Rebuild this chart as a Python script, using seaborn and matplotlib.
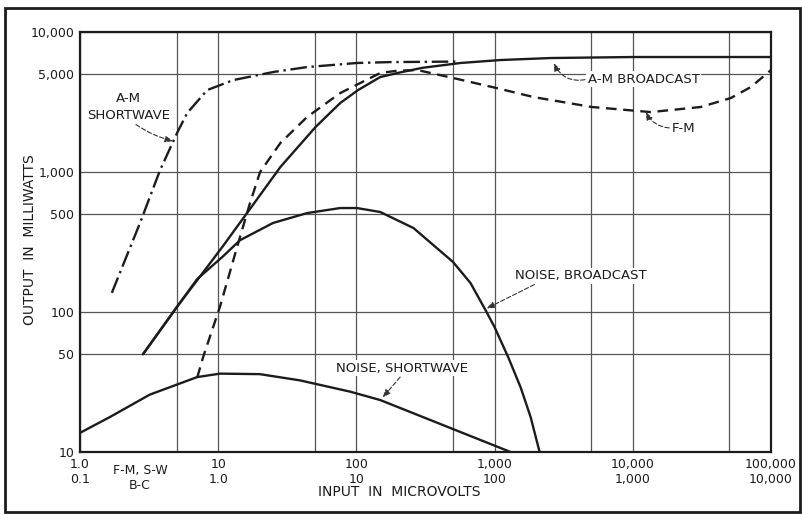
import pandas as pd
import seaborn as sns
import matplotlib.pyplot as plt
from matplotlib.patches import Rectangle
from matplotlib.ticker import NullFormatter

# curves (x = input in microvolts, upper scale; y = output mW)
am_sw_x = [1.7, 2.1, 2.72, 3.8, 5.04, 5.96, 8.33, 12.9, 25, 44, 101, 176, 520]
am_sw_y = [137, 230, 433, 1033, 1900, 2636, 3850, 4540, 5180, 5620, 6010, 6100, 6150]

am_bc_x = [2.86, 5.04, 10.7, 17, 28.2, 50.6, 76.4, 103, 149, 208, 300, 567, 1105, 2546, 10000, 100000]
am_bc_y = [50, 109, 291, 545, 1086, 2094, 3111, 3853, 4773, 5150, 5550, 6010, 6310, 6520, 6630, 6630]

fm_x = [7.05, 7.8, 10.3, 13.7, 17, 20.1, 28.2, 44, 76.4, 149, 200, 277, 504, 1033, 1918, 5047, 13490, 31100, 51300, 71600, 100000]
fm_y = [34, 48, 109, 291, 601, 1000, 1612, 2473, 3664, 5100, 5300, 5350, 4690, 3980, 3430, 2915, 2680, 2915, 3380, 4050, 5350]

noise_bc_x = [2.86, 5.04, 7.05, 10.7, 14.4, 25, 44, 76.4, 101, 149, 259, 500, 670, 875, 1000, 1262, 1543, 1823, 2118]
noise_bc_y = [50, 109, 172, 247, 326, 433, 509, 553, 553, 518, 398, 228, 161, 100, 78, 47, 29, 17.8, 10]

noise_sw_x = [1, 1.65, 3.2, 7.05, 10.3, 20, 39, 90, 149, 1306]
noise_sw_y = [13.7, 17.8, 25.7, 34.3, 36.3, 36, 32.5, 27, 23.5, 10]

x_ticks = [1, 10, 100, 1000, 10000, 100000]
x_labels = ['1.0\n0.1', '10\n1.0', '100\n10', '1,000\n100', '10,000\n1,000', '100,000\n10,000']
x_grid = [5, 50, 500, 5000, 50000]
y_ticks = [10, 50, 100, 500, 1000, 5000, 10000]
y_labels = ['10', '50', '100', '500', '1,000', '5,000', '10,000']

sns.set_style('white')
plt.rcParams['font.family'] = ['DejaVu Sans']

ink = '#1c1c1c'
fig = plt.figure(figsize=(8.03, 5.15), dpi=100)
ax = fig.add_axes([0.0996, 0.1223, 0.8605, 0.8155])

curves = [
    (am_sw_x, am_sw_y, (0, (7, 2, 1, 2))),
    (am_bc_x, am_bc_y, '-'),
    (fm_x, fm_y, (0, (4.5, 2.8))),
    (noise_bc_x, noise_bc_y, '-'),
    (noise_sw_x, noise_sw_y, '-'),
]
for xs, ys, ls in curves:
    df = pd.DataFrame({'x': xs, 'y': ys})
    sns.lineplot(data=df, x='x', y='y', ax=ax, sort=False, estimator=None,
                 color=ink, lw=1.7, linestyle=ls, zorder=3)

ax.set_xscale('log')
ax.set_yscale('log')
ax.set_xlim(1, 100000)
ax.set_ylim(10, 10000)

for v in x_ticks + x_grid:
    ax.axvline(v, color='#555', lw=0.9, zorder=1)
for v in y_ticks:
    ax.axhline(v, color='#555', lw=0.9, zorder=1)

ax.set_xticks(x_ticks)
ax.set_xticklabels(x_labels)
ax.set_xticks([], minor=True)
ax.set_yticks(y_ticks)
ax.set_yticklabels(y_labels)
ax.set_yticks([], minor=True)
ax.xaxis.set_minor_formatter(NullFormatter())
ax.tick_params(length=0, labelsize=9, colors=ink, pad=4)
ax.set_xlabel('')
ax.set_ylabel('')
for s in ax.spines.values():
    s.set_color(ink)
    s.set_linewidth(1.6)

ax.text(2.72, -0.028, 'F-M, S-W\nB-C', transform=ax.get_xaxis_transform(),
        ha='center', va='top', fontsize=9, color=ink)
fig.text(399 / 803, 1 - 492 / 515, 'INPUT  IN  MICROVOLTS', ha='center', va='center',
         fontsize=10, color=ink)
fig.text(30 / 803, 1 - 240 / 515, 'OUTPUT  IN  MILLIWATTS', rotation=90, ha='center',
         va='center', fontsize=10, color=ink)

arrow = dict(arrowstyle='-|>,head_length=0.5,head_width=0.2', lw=0.8,
             ls=(0, (4, 2)), color='#333', shrinkA=1, shrinkB=0)
txt = dict(fontsize=9.5, color=ink, ha='center', va='center',
           bbox=dict(fc='white', ec='none', pad=1))

ax.annotate('A-M\nSHORTWAVE', xy=(4.72, 1664), xytext=(2.25, 2900),
            arrowprops=dict(arrow, relpos=(0.55, 0), connectionstyle='arc3,rad=0.1'),
            linespacing=1.4, **txt)
ax.annotate('A-M BROADCAST', xy=(2680, 6000), xytext=(12020, 4616),
            arrowprops=dict(arrow, relpos=(0, 0.5), connectionstyle='arc3,rad=-0.4'), **txt)
ax.annotate('F-M', xy=(12420, 2683), xytext=(23440, 2061),
            arrowprops=dict(arrow, relpos=(0, 0.5), connectionstyle='arc3,rad=-0.3'), **txt)
ax.annotate('NOISE, BROADCAST', xy=(875, 106), xytext=(4200, 181),
            arrowprops=dict(arrow, relpos=(0.2, 0.1), connectionstyle='arc3,rad=0'), **txt)
ax.annotate('NOISE, SHORTWAVE', xy=(155, 24.5), xytext=(215, 39.8),
            arrowprops=dict(arrow, relpos=(0.5, 0), connectionstyle='arc3,rad=0'), **txt)

fig.patches.append(Rectangle((0.006, 0.006), 0.99, 0.978, transform=fig.transFigure,
                             fill=False, lw=2, ec=ink))

fig.savefig('out.png', dpi=100, facecolor='white')
